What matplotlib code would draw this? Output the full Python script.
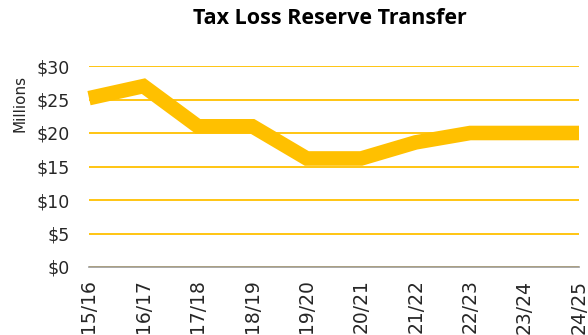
import matplotlib
matplotlib.use("Agg")
import matplotlib.pyplot as plt
from matplotlib.ticker import FuncFormatter

years = ["15/16", "16/17", "17/18", "18/19", "19/20", "20/21",
         "21/22", "22/23", "23/24", "24/25"]
transfer = [25.2, 27.0, 21.0, 21.0, 16.2, 16.2, 18.6, 20.0, 20.0, 20.0]
y_ticks = [0, 5, 10, 15, 20, 25, 30]

gold = "#FFC000"
text_color = "#262626"

fig = plt.figure(figsize=(5.88, 3.35), dpi=100)
ax = fig.add_axes([89 / 588, 1 - 267 / 335, (579 - 89) / 588, (267 - 66) / 335])

x = list(range(len(years)))
ax.plot(x, transfer, color=gold, linewidth=10.5, solid_joinstyle="miter",
        solid_capstyle="butt", clip_on=False, zorder=3)

ax.set_xlim(0, len(years) - 1)
ax.set_ylim(0, 30)
ax.set_yticks(y_ticks)
ax.yaxis.set_major_formatter(FuncFormatter(lambda v, p: f"${v:.0f}"))
ax.grid(axis="y", color=gold, linewidth=1.3)
ax.set_axisbelow(True)

ax.set_xticks(x)
ax.set_xticklabels(years, rotation=90, fontsize=13.5, family="DejaVu Sans",
                   color=text_color)
for lbl in ax.get_yticklabels():
    lbl.set_fontsize(12.5)
    lbl.set_family("DejaVu Sans")
    lbl.set_color(text_color)

ax.tick_params(axis="both", length=0)
ax.tick_params(axis="y", pad=14)
ax.tick_params(axis="x", pad=9)
for side in ("top", "right", "left"):
    ax.spines[side].set_visible(False)
ax.spines["bottom"].set_color("#999999")
ax.spines["bottom"].set_linewidth(1.2)

fig.text(20 / 588, 1 - 103 / 335, "Millions", rotation=90, ha="center", va="center",
         fontsize=11, family="DejaVu Sans", color=text_color)
fig.text(330 / 588, 1 - 19 / 335, "Tax Loss Reserve Transfer", ha="center", va="center",
         fontsize=15.5, fontweight="bold", family="Open Sans", color="#000000")

fig.savefig("out.png", dpi=100)
